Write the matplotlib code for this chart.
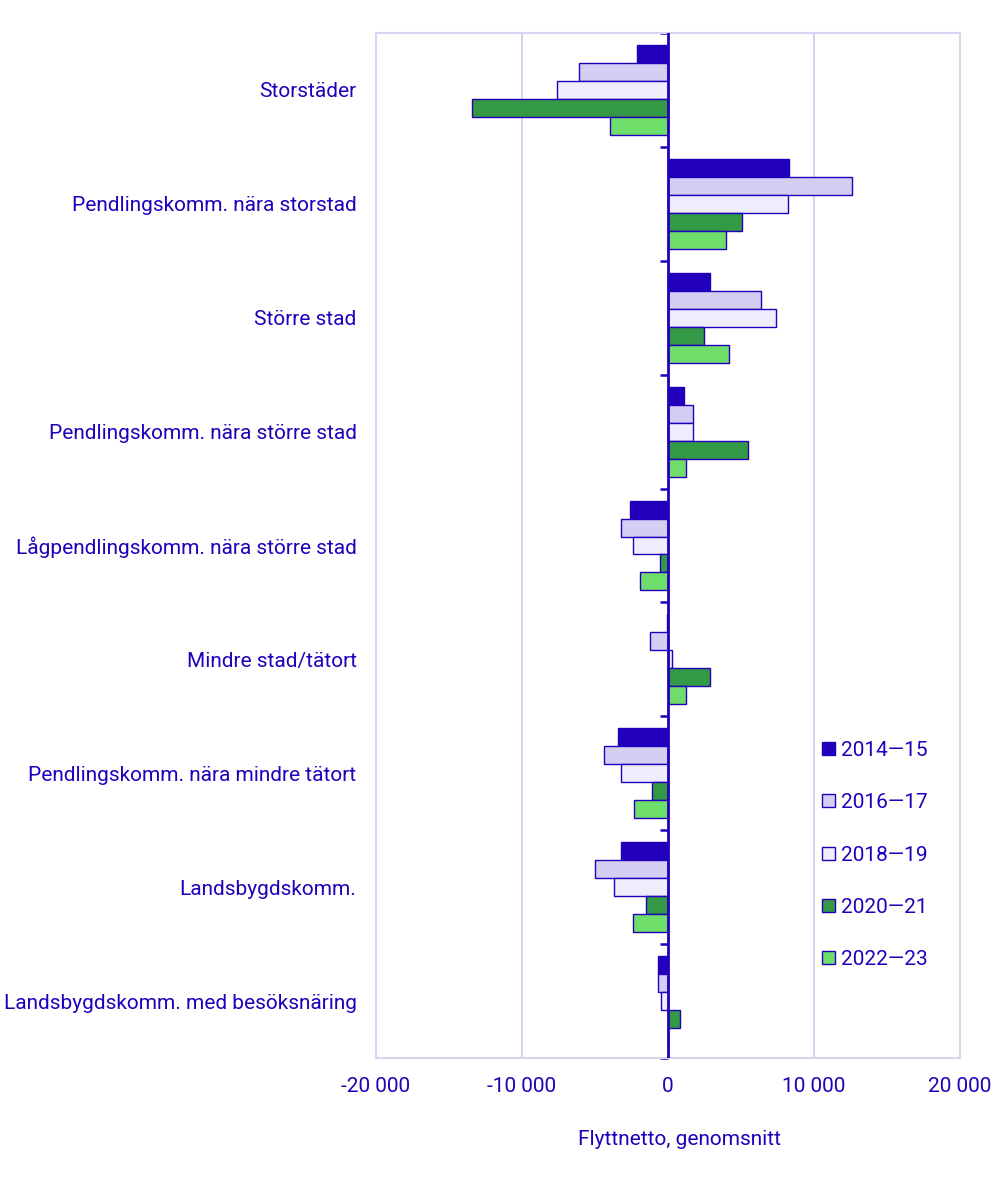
import numpy as np
import matplotlib
matplotlib.use("Agg")
import matplotlib.pyplot as plt
from matplotlib.ticker import FuncFormatter

plt.rcParams["font.family"] = ["Roboto", "DejaVu Sans"]

categories = [
    "Storstäder",
    "Pendlingskomm. nära storstad",
    "Större stad",
    "Pendlingskomm. nära större stad",
    "Lågpendlingskomm. nära större stad",
    "Mindre stad/tätort",
    "Pendlingskomm. nära mindre tätort",
    "Landsbygdskomm.",
    "Landsbygdskomm. med besöksnäring",
]
periods = ["2014—15", "2016—17", "2018—19", "2020—21", "2022—23"]

v_2014_15 = [-2100, 8300, 2900, 1100, -2600, -100, -3450, -3250, -700]
v_2016_17 = [-6100, 12600, 6400, 1700, -3250, -1200, -4400, -5000, -700]
v_2018_19 = [-7600, 8200, 7400, 1700, -2400, 250, -3200, -3700, -450]
v_2020_21 = [-13450, 5050, 2450, 5500, -550, 2850, -1100, -1500, 850]
v_2022_23 = [-4000, 3950, 4200, 1200, -1900, 1200, -2300, -2400, 0]
series = [v_2014_15, v_2016_17, v_2018_19, v_2020_21, v_2022_23]

colors = ["#2200BB", "#D3CEF2", "#EEEDFD", "#339944", "#6EDD6A"]
BLUE = "#2200BB"
GRID = "#D6D4F0"

fig = plt.figure(figsize=(10.04, 11.81), dpi=100)
ax = fig.add_axes([376 / 1004, 1 - 1058 / 1181, 584 / 1004, 1025 / 1181])

y = np.arange(len(categories))
h = 0.158
for i, (name, vals) in enumerate(zip(periods, series)):
    offs = (i - 2) * h
    ax.barh(y + offs, vals, height=h, color=colors[i], edgecolor=BLUE,
            linewidth=1.0, label=name, zorder=3)

ax.set_xlim(-20000, 20000)
ax.set_ylim(len(categories) - 0.5, -0.5)
ax.set_xticks([-20000, -10000, 0, 10000, 20000])
ax.xaxis.set_major_formatter(FuncFormatter(lambda v, p: f"{int(v):,}".replace(",", " ")))
ax.tick_params(axis="x", length=0, pad=14, labelsize=15, labelcolor=BLUE)
ax.set_yticks(y)
ax.set_yticklabels(categories)
ax.tick_params(axis="y", length=0, pad=14, labelsize=15, labelcolor=BLUE)

for x in [-10000, 10000]:
    ax.axvline(x, color=GRID, linewidth=1.5, zorder=1)
for s in ax.spines.values():
    s.set_color(GRID)
    s.set_linewidth(1.5)

# zero axis line
ax.axvline(0, color=BLUE, linewidth=2, zorder=4)

# small ticks at category boundaries on the zero axis
sec = ax.secondary_yaxis(0.5)
sec.set_yticks(np.arange(len(categories) + 1) - 0.5)
sec.set_yticklabels([])
sec.tick_params(axis="y", direction="in", length=6, width=1.8, color=BLUE)
for k in sec.spines:
    sec.spines[k].set_visible(False)

ax.set_xlabel("Flyttnetto, genomsnitt", fontsize=15, color=BLUE)
ax.xaxis.set_label_coords(0.52, -0.070)

leg = ax.legend(loc="center left", bbox_to_anchor=(0.75, 0.198), frameon=False,
                fontsize=15, handlelength=0.6, handleheight=0.6,
                handletextpad=0.3, labelspacing=1.6, borderaxespad=0)
for t in leg.get_texts():
    t.set_color(BLUE)

fig.savefig("out.png", dpi=100)
